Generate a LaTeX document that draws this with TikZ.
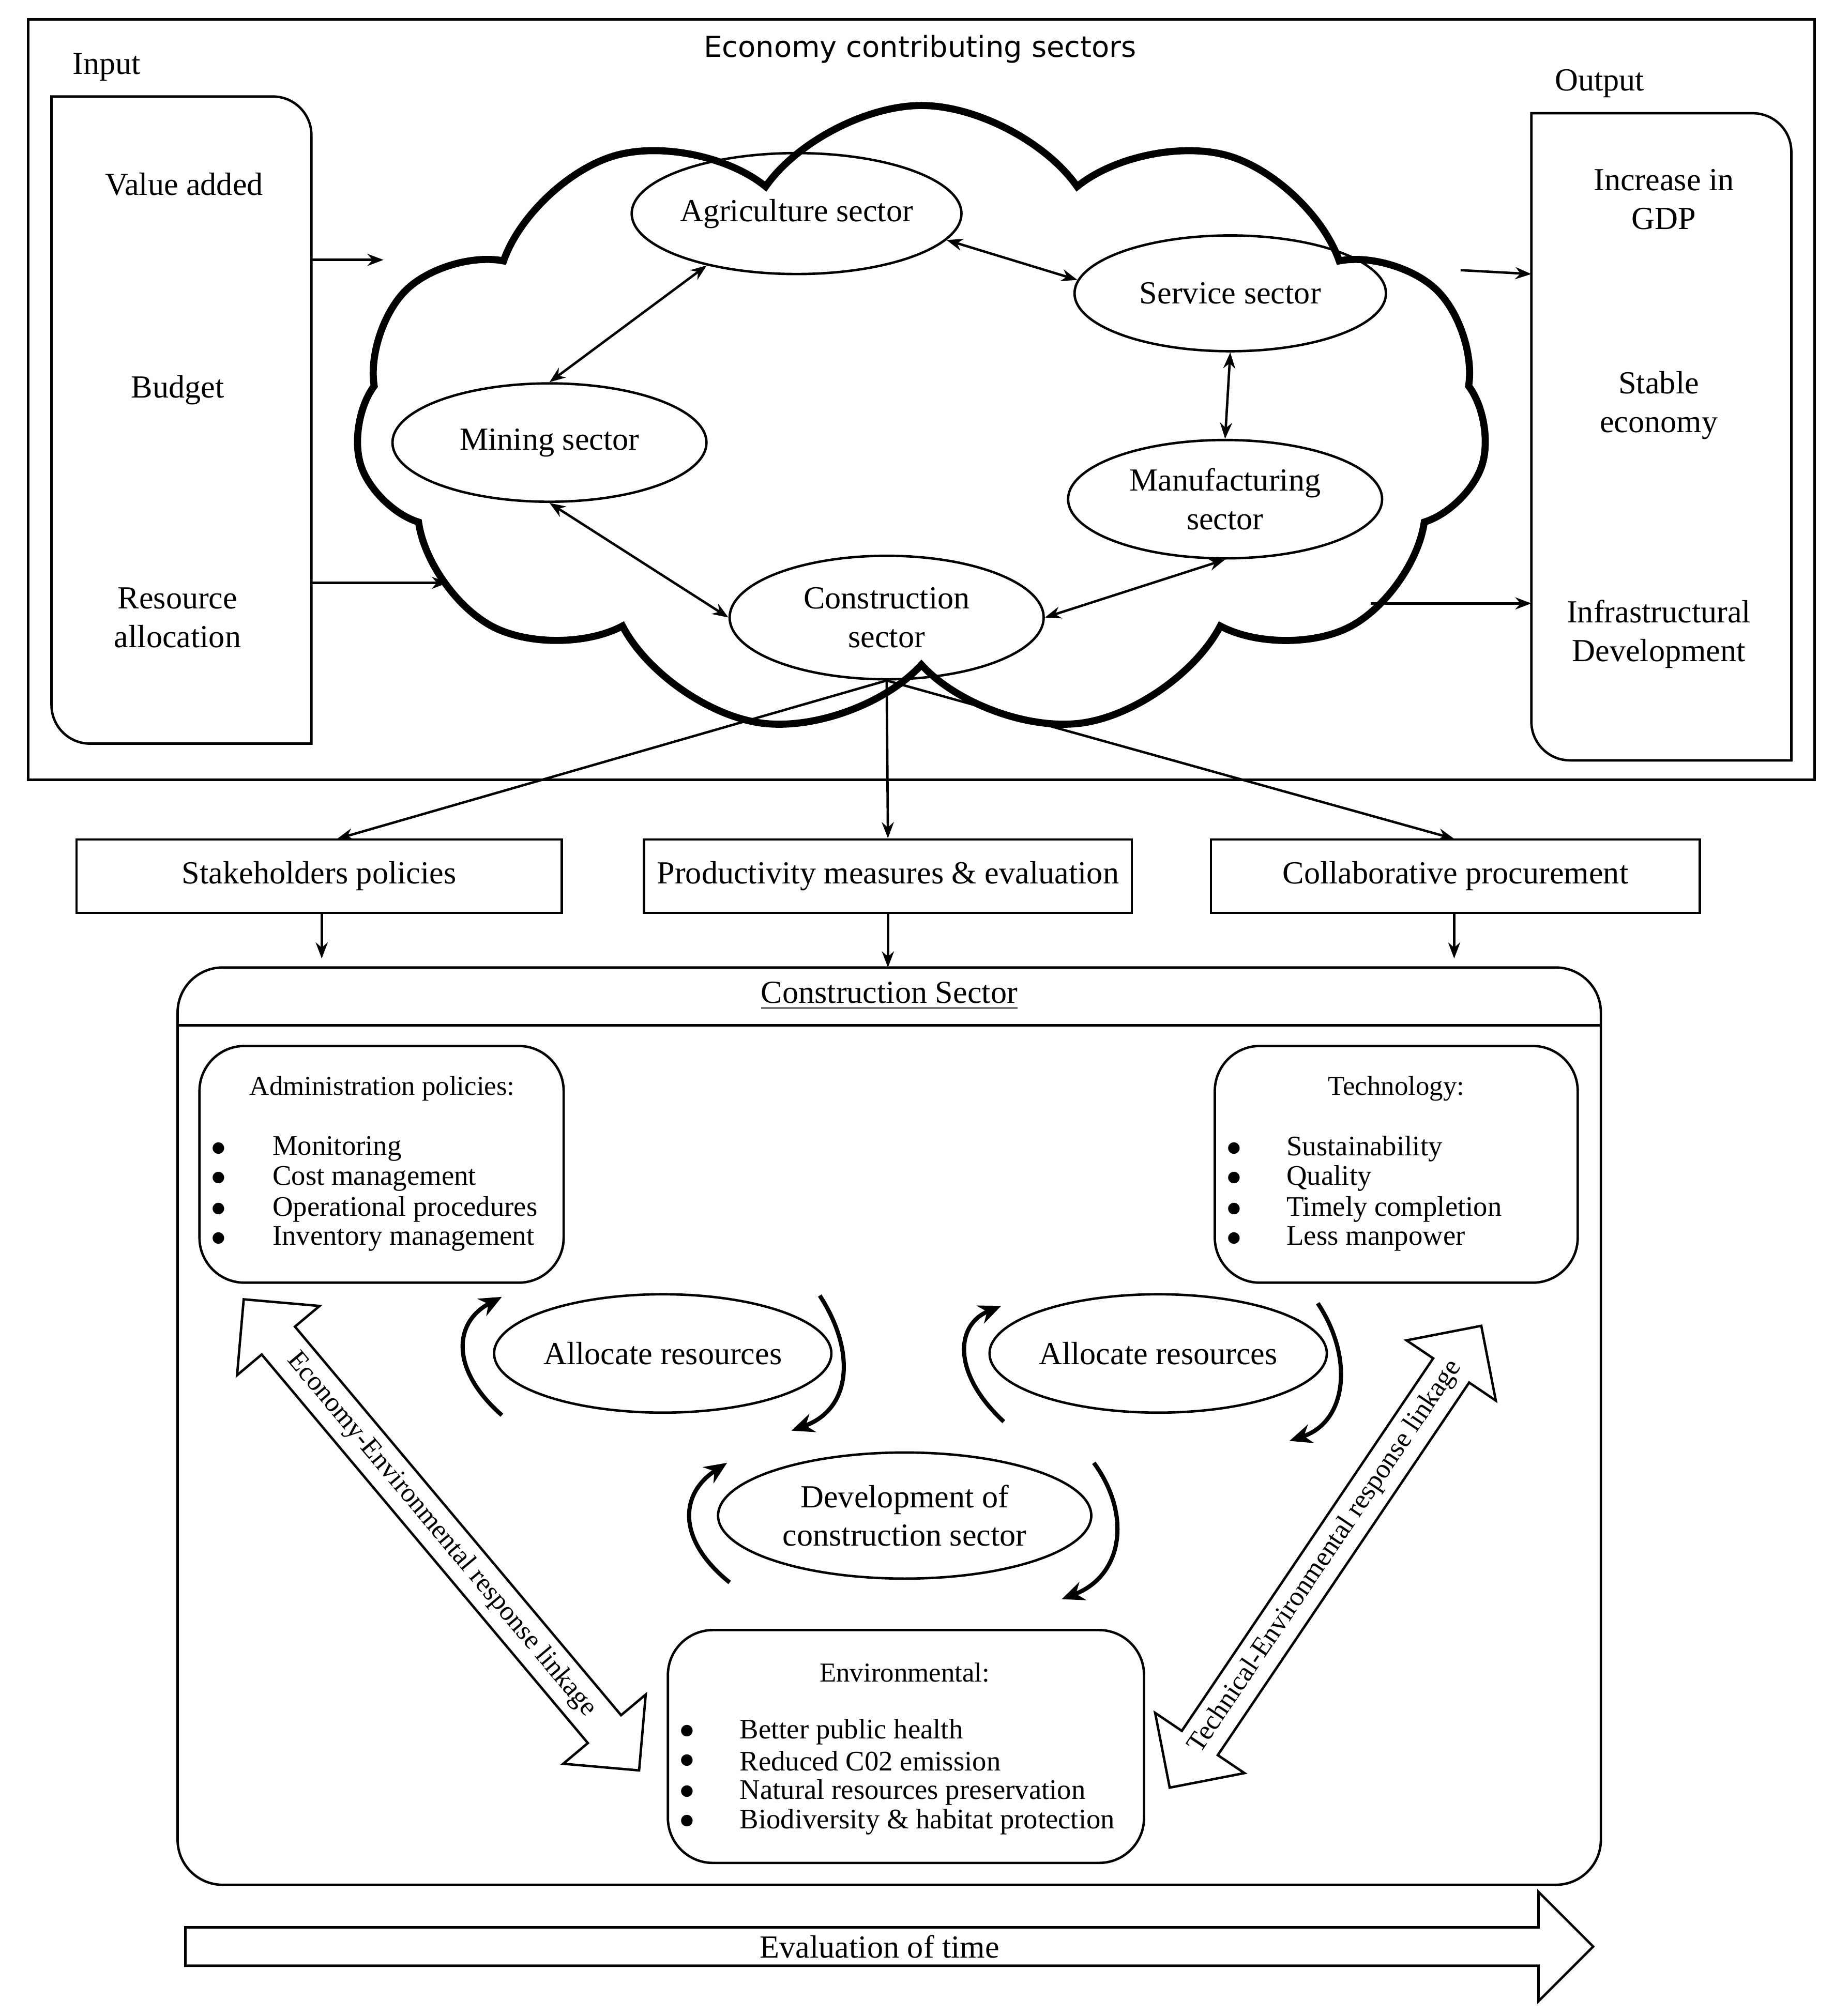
\documentclass[tikz,border=0pt]{standalone}
\usepackage{fontspec}
\setmainfont{Liberation Serif}
\newfontfamily\sansf{DejaVu Sans}
\usetikzlibrary{shapes.symbols,shapes.arrows,shapes.geometric,arrows.meta}
\tikzset{every picture/.style={line width=0.75pt}}
\tikzset{
  sector/.style={ellipse,draw,inner sep=0pt,align=center,font=\fontsize{10}{12}\selectfont},
  link/.style={{Stealth[length=5pt]}-{Stealth[length=5pt]}},
  one/.style={-{Stealth[length=5pt]}},
  plain/.style={draw,inner sep=0pt,font=\fontsize{10}{12}\selectfont},
  txt/.style={align=center,inner sep=0.75pt,font=\fontsize{10}{12}\selectfont},
  turn/.style={line width=1.3pt,-{Stealth[length=7pt,width=6pt]}},
  item/.style={anchor=west,inner sep=0.75pt,font=\fontsize{8.8}{11}\selectfont},
  dot/.style={inner sep=0pt,font=\fontsize{9}{11}\selectfont},
  linkage/.style={double arrow,draw,double arrow head extend=10pt,inner sep=2.5pt,font=\fontsize{8.5}{10}\selectfont}
}
\begin{document}
\begin{tikzpicture}[x=0.4pt,y=0.4pt,yscale=-1,xscale=1]
\useasboundingbox (0,0) rectangle (1425,1567);

%Top frame
\draw (22,15) rectangle (1410,606);
\node[inner sep=0.75pt,font=\sansf\fontsize{9}{11}\selectfont] (title) at (715,38) {Economy contributing sectors};

%Input box
\node[txt] (inlabel) at (83,52) {Input};
\draw (40,75) -- (212,75) arc[start angle=-90,end angle=0,radius=30] -- (242,578) -- (70,578) arc[start angle=90,end angle=180,radius=30] -- cycle;
\node[txt] (valadd) at (143,143) {Value added};
\node[txt] (budget) at (138,303) {Budget};
\node[txt] (resall) at (138,480) {Resource\\allocation};
\coordinate (in1) at (242,202);
\coordinate (in2) at (242,453);

%Output box
\node[txt] (outlabel) at (1243,65) {Output};
\draw (1190,88) -- (1362,88) arc[start angle=-90,end angle=0,radius=30] -- (1392,591) -- (1220,591) arc[start angle=90,end angle=180,radius=30] -- cycle;
\node[txt] (gdp) at (1293,155) {Increase in\\GDP};
\node[txt] (stable) at (1289,315) {Stable\\economy};
\node[txt] (infra) at (1289,493) {Infrastructural\\Development};
\coordinate (out1) at (1190,213);
\coordinate (out2) at (1190,469);

%Cloud
\node[cloud,draw,line width=2.2pt,cloud puffs=11,cloud puff arc=110,aspect=1.8,shape border rotate=16,minimum width=880*0.4pt,minimum height=490*0.4pt,inner sep=0pt] (cloud) at (716,327) {};
\coordinate (c1) at (298,202);
\coordinate (c2) at (348,453);
\coordinate (c3) at (1135,210);
\coordinate (c4) at (1065,469);

%Sectors
\node[sector,minimum width=242*0.4pt,minimum height=94*0.4pt] (agri) at (619,166) {Agriculture sector};
\node[sector,minimum width=242*0.4pt,minimum height=90*0.4pt] (serv) at (956,228) {Service sector};
\node[sector,minimum width=244*0.4pt,minimum height=92*0.4pt] (mining) at (427,344) {Mining sector};
\node[sector,minimum width=244*0.4pt,minimum height=92*0.4pt] (manu) at (952,388) {Manufacturing\\sector};
\node[sector,minimum width=244*0.4pt,minimum height=96*0.4pt] (cons) at (689,480) {Construction\\sector};

\draw[link] (agri.210) -- (mining.90);
\draw[link] (agri.-10) -- (serv.175);
\draw[link] (serv.-90) -- (manu.90);
\draw[link] (mining.-90) -- (cons.180);
\draw[link] (cons.0) -- (manu.-90);
\draw[one] (in1) -- (c1);
\draw[one] (in2) -- (c2);
\draw[one] (c3) -- (out1);
\draw[one] (c4) -- (out2);

%Middle boxes
\node[plain,minimum width=377*0.4pt,minimum height=57*0.4pt] (stake) at (248,681) {Stakeholders policies};
\node[plain,minimum width=379*0.4pt,minimum height=57*0.4pt] (prod) at (690,681) {Productivity measures \& evaluation};
\node[plain,minimum width=380*0.4pt,minimum height=57*0.4pt] (collab) at (1131,681) {Collaborative procurement};
\draw[one] (cons.-90) -- (262,652);
\draw[one] (cons.-90) -- (prod.north);
\draw[one] (cons.-90) -- (1130,652);

%Construction Sector box
\draw[rounded corners=14pt] (138,752) rectangle (1244,1465);
\draw (138,797) -- (1244,797);
\node[txt] (cstitle) at (691,774) {\underline{Construction Sector}};
\coordinate (t1) at (250,745);
\coordinate (t2) at (690,752);
\coordinate (t3) at (1130,745);
\draw[one] (stake.south -| t1) -- (t1);
\draw[one] (prod.south) -- (t2);
\draw[one] (collab.south -| t3) -- (t3);

%Administration
\draw[rounded corners=14pt] (155,813) rectangle (438,997);
\node[inner sep=0.75pt,font=\fontsize{8.5}{10}\selectfont] (admt) at (297,846) {Administration policies:};
\foreach \y/\t [count=\i] in {893/Monitoring,916/Cost management,940/Operational procedures,963/Inventory management}{
  \node[dot] (ad\i) at (170,\y) {$\bullet$};
  \node[item] (adt\i) at (209,\y) {\t};
}

%Technology
\draw[rounded corners=14pt] (944,813) rectangle (1226,997);
\node[inner sep=0.75pt,font=\fontsize{8.5}{10}\selectfont] (techt) at (1085,846) {Technology:};
\foreach \y/\t [count=\i] in {893/Sustainability,916/Quality,940/Timely completion,963/Less manpower}{
  \node[dot] (te\i) at (959,\y) {$\bullet$};
  \node[item] (tet\i) at (997,\y) {\t};
}

%Environmental
\draw[rounded corners=14pt] (519,1267) rectangle (889,1448);
\node[inner sep=0.75pt,font=\fontsize{8.5}{10}\selectfont] (envt) at (703,1300) {Environmental:};
\foreach \y/\t [count=\i] in {1346/Better public health,1369/Reduced C02 emission,1393/Natural resources preservation,1416/Biodiversity \& habitat protection}{
  \node[dot] (en\i) at (534,\y) {$\bullet$};
  \node[item] (ent\i) at (572,\y) {\t};
}

%Cycle
\node[sector,minimum width=242*0.4pt,minimum height=92*0.4pt] (alloc1) at (515,1052) {Allocate resources};
\node[sector,minimum width=244*0.4pt,minimum height=92*0.4pt] (alloc2) at (900,1052) {Allocate resources};
\node[sector,minimum width=290*0.4pt,minimum height=98*0.4pt] (dev) at (703,1178) {Development of\\construction sector};
\draw[turn] (390,1100) .. controls (350,1065) and (352,1028) .. (390,1008);
\draw[turn] (637,1007) .. controls (665,1050) and (662,1095) .. (615,1112);
\draw[turn] (780,1105) .. controls (740,1068) and (742,1030) .. (778,1015);
\draw[turn] (1024,1013) .. controls (1052,1055) and (1047,1105) .. (1002,1120);
\draw[turn] (567,1230) .. controls (527,1198) and (527,1162) .. (565,1137);
\draw[turn] (850,1137) .. controls (880,1178) and (872,1225) .. (825,1243);

%Linkages
\node[linkage,rotate=-50,minimum height=478*0.4pt] (econlink) at (343,1193) {Economy-Environmental response linkage};
\node[linkage,rotate=56,minimum height=433*0.4pt] (techlink) at (1030,1210) {Technical-Environmental response linkage};

%Time
\node[single arrow,draw,anchor=west,single arrow head extend=11pt,minimum width=85*0.4pt,minimum height=1094*0.4pt,inner sep=2pt,font=\fontsize{10}{12}\selectfont] (time) at (143,1513) {Evaluation of time};
\end{tikzpicture}
\end{document}
